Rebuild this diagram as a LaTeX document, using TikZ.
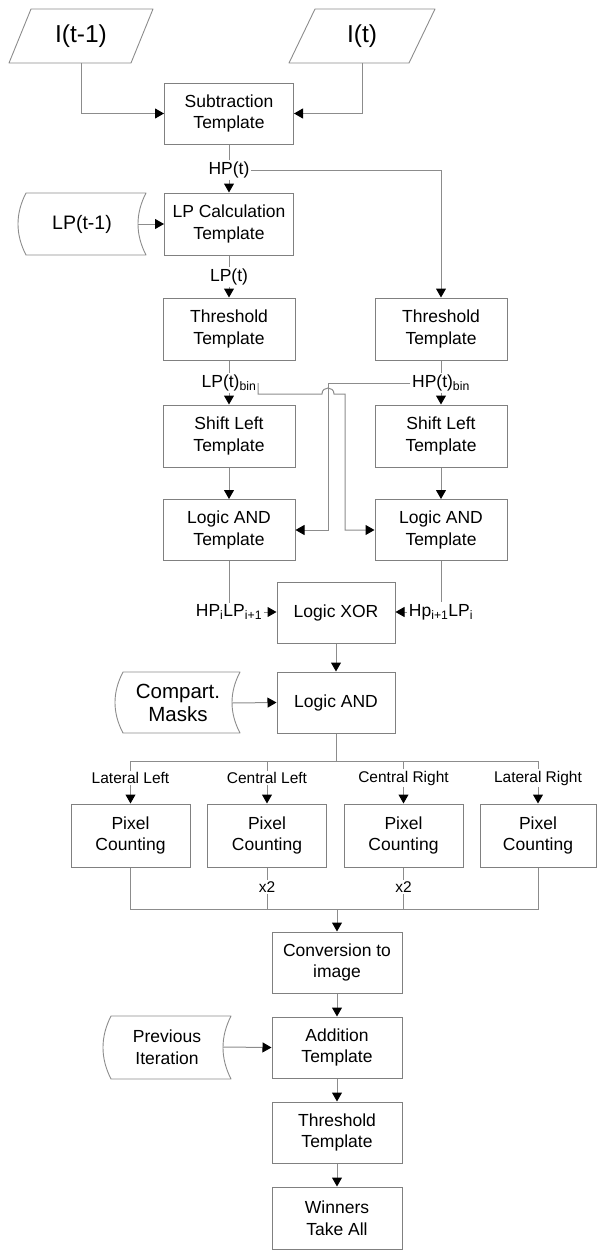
\documentclass[tikz,border=0pt]{standalone}
\usepackage{fontspec}
\setmainfont{Liberation Sans}
\usetikzlibrary{arrows.meta,calc}
\definecolor{ln}{RGB}{140,140,140}
\definecolor{bx}{RGB}{128,128,128}
\tikzset{
 box/.style={draw=bx, line width=1pt, minimum width=#1, minimum height=61pt, inner sep=0pt, align=center, font=\fontsize{17.5}{21.5}\selectfont},
 box/.default=130pt,
 lbl/.style={inner sep=1.5pt, font=\fontsize{17.5}{20}\selectfont},
 slbl/.style={inner sep=1.5pt, font=\fontsize{15.5}{18}\selectfont},
 txt/.style={inner sep=0pt, align=center},
 con/.style={draw=ln, line width=1pt},
 arr/.style={con, -{Triangle[length=9pt,width=10pt,color=black]}},
 shp/.style={draw=ln, line width=0.9pt, line join=round},
}
\newcommand\storeshape[4]{%
 \draw[shp] ({#1+8},#3) -- (#2,#3)
  .. controls ({#2-10.67},{#3+(#4-#3)/3}) and ({#2-10.67},{#3+2*(#4-#3)/3}) .. (#2,#4)
  -- ({#1+8},#4)
  .. controls ({#1-2.67},{#3+2*(#4-#3)/3}) and ({#1-2.67},{#3+(#4-#3)/3}) .. ({#1+8},#3) -- cycle;}
\begin{document}
\begin{tikzpicture}[x=1pt,y=-1pt]
\useasboundingbox (0,0) rectangle (597,1250);
% inputs
\draw[shp] (9,63) -- (131,63) -- (153,9) -- (31,9) -- cycle;
\node[txt, font=\fontsize{24.5}{28}\selectfont] (itm) at (81,36) {I(t-1)};
\draw[shp] (289,63) -- (409,63) -- (435,9) -- (315,9) -- cycle;
\node[txt, font=\fontsize{24.5}{28}\selectfont] (it) at (362,36) {I(t)};
\coordinate (itmB) at (81,63);
\coordinate (itB) at (362,63);
% stored data
\storeshape{18}{146}{193}{255}
\node[txt, font=\fontsize{19.5}{23}\selectfont] (lpm) at (82,224) {LP(t-1)};
\coordinate (lpmR) at (138,224);
\storeshape{115}{240}{672}{733}
\node[txt, font=\fontsize{20.5}{23.5}\selectfont] (cm) at (178,703) {Compart.\\Masks};
\coordinate (cmR) at (232,703);
\storeshape{103}{231}{1016}{1079}
\node[txt, font=\fontsize{17.5}{21.5}\selectfont] (pv) at (167,1047) {Previous\\Iteration};
\coordinate (pvR) at (223,1047);
% boxes
\node[box=129pt] (sub) at (229,113.5) {Subtraction\\Template};
\node[box=129pt, minimum height=62pt] (lpc) at (229,224) {LP Calculation\\Template};
\node[box=132pt, minimum height=62pt] (thr1) at (229,329) {Threshold\\Template};
\node[box=132pt, minimum height=62pt] (thr2) at (441,329) {Threshold\\Template};
\node[box=132pt, minimum height=62pt] (shl1) at (229,436) {Shift Left\\Template};
\node[box=132pt, minimum height=62pt] (shl2) at (441,436) {Shift Left\\Template};
\node[box=132pt] (and1) at (229,530) {Logic AND\\Template};
\node[box=132pt] (and2) at (441,530) {Logic AND\\Template};
\node[box=118pt] (xor) at (336,612.5) {Logic XOR};
\node[box=118pt] (and3) at (336,702.5) {Logic AND};
\node[box=119pt, minimum height=63pt] (pc1) at (130.5,835.5) {Pixel\\Counting};
\node[box=119pt, minimum height=63pt] (pc2) at (267,835.5) {Pixel\\Counting};
\node[box=119pt, minimum height=63pt] (pc3) at (403.5,835.5) {Pixel\\Counting};
\node[box=116pt, minimum height=63pt] (pc4) at (538,835.5) {Pixel\\Counting};
\node[box=130pt] (conv) at (337,962.5) {Conversion to\\image};
\node[box=130pt] (add) at (337,1047.5) {Addition\\Template};
\node[box=130pt] (thr3) at (337,1132.5) {Threshold\\Template};
\node[box=130pt, minimum height=62pt] (wta) at (337,1218) {Winners\\Take All};
% labels
\node[lbl] (hp) at (229,170) {HP(t)};
\node[lbl] (lpt) at (229,277) {LP(t)};
\node[lbl] (lpb) at (229,383) {LP(t)\textsubscript{bin}};
\node[lbl] (hpb) at (441,383) {HP(t)\textsubscript{bin}};
\node[lbl] (hpl) at (229,612) {HP\textsubscript{i}LP\textsubscript{i+1}};
\node[lbl] (hpr) at (441,612) {Hp\textsubscript{i+1}LP\textsubscript{i}};
\node[slbl] (ll) at (130.5,778) {Lateral Left};
\node[slbl] (cl) at (267,778) {Central Left};
\node[slbl] (cr) at (403.5,778) {Central Right};
\node[slbl] (lr) at (538,778) {Lateral Right};
\node[slbl] (x2a) at (267,887) {x2};
\node[slbl] (x2b) at (403.5,887) {x2};
% helper coordinates
\coordinate (cL) at (328,530);
\coordinate (hopL) at (322,394);
\coordinate (hopR) at (334,394);
\coordinate (cR) at (345,530);
\coordinate (bus) at (336,761);
\coordinate (bot) at (337,909);
% connectors
\draw[arr] (itmB) |- (sub.west);
\draw[arr] (itB) |- (sub.east);
\draw[con] (sub.south) -- (hp.north);
\draw[arr] (hp.south) -- (lpc.north);
\draw[arr] (hp.east) -| (thr2.north);
\draw[arr] (lpmR) -- (lpc.west);
\draw[con] (lpc.south) -- (lpt.north);
\draw[arr] (lpt.south) -- (thr1.north);
\draw[con] (thr1.south) -- (lpb.north);
\draw[arr] (lpb.south) -- (shl1.north);
\draw[con] (thr2.south) -- (hpb.north);
\draw[arr] (hpb.south) -- (shl2.north);
\draw[arr] (shl1.south) -- (and1.north);
\draw[arr] (shl2.south) -- (and2.north);
\draw[arr] (hpb.west) -| (cL) -- (and1.east);
\draw[arr] (lpb.east) -- (lpb.east |- hopL) -- (hopL)
  .. controls ($(hopL)+(0,-8)$) and ($(hopR)+(0,-8)$) .. (hopR) -| (cR) -- (and2.west);
\draw[con] (and1.south) -- (hpl.north);
\draw[arr] (hpl.east) -- (hpl.east -| xor.west);
\draw[con] (and2.south) -- (hpr.north);
\draw[arr] (hpr.west) -- (hpr.west -| xor.east);
\draw[arr] (xor.south) -- (and3.north);
\draw[arr] (cmR) -- (and3.west);
\draw[con] (and3.south) -- (bus);
\draw[con] (ll.north) -- (ll.north |- bus) -- (lr.north |- bus) -- (lr.north);
\draw[con] (cl.north) -- (cl.north |- bus);
\draw[con] (cr.north) -- (cr.north |- bus);
\draw[arr] (ll.south) -- (pc1.north);
\draw[arr] (cl.south) -- (pc2.north);
\draw[arr] (cr.south) -- (pc3.north);
\draw[arr] (lr.south) -- (pc4.north);
\draw[con] (pc1.south) -- (pc1.south |- bot) -- (pc4.south |- bot) -- (pc4.south);
\draw[con] (pc2.south) -- (x2a.north);
\draw[con] (x2a.south) -- (x2a.south |- bot);
\draw[con] (pc3.south) -- (x2b.north);
\draw[con] (x2b.south) -- (x2b.south |- bot);
\draw[arr] (bot) -- (conv.north);
\draw[arr] (conv.south) -- (add.north);
\draw[arr] (pvR) -- (add.west);
\draw[arr] (add.south) -- (thr3.north);
\draw[arr] (thr3.south) -- (wta.north);
\end{tikzpicture}
\end{document}
